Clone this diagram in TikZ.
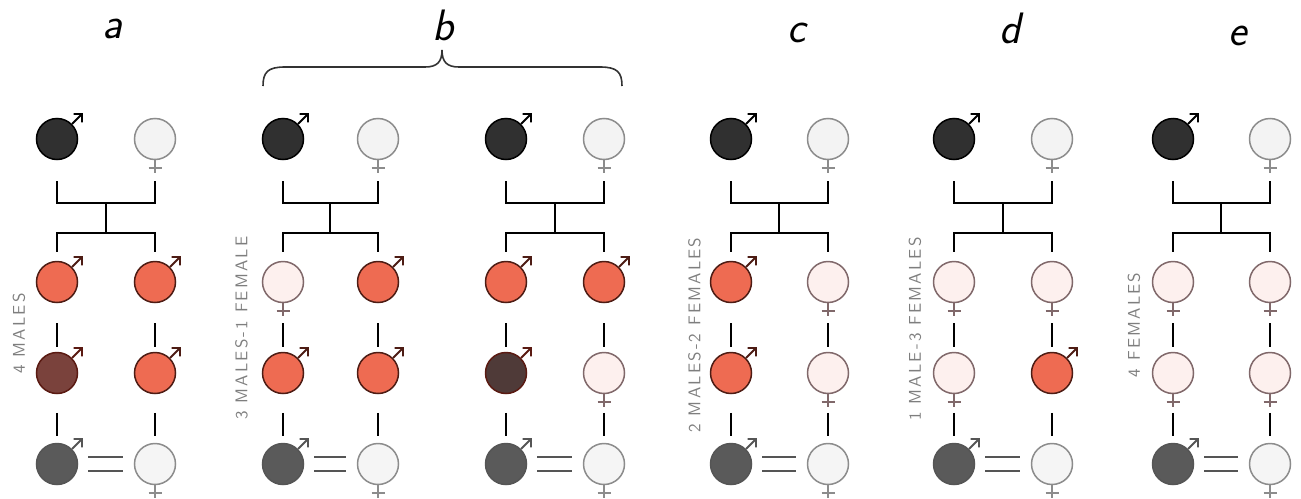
\documentclass[tikz,border=0pt]{standalone}
\usepackage{fontspec}
\setmainfont{Liberation Sans}
\newfontfamily\lblfont{lmsans10-regular}[Extension=.otf, LetterSpace=13]
\newfontfamily\letfont{lmsans17-oblique}[Extension=.otf]
\usetikzlibrary{calc}
\definecolor{topM}{HTML}{303030}
\definecolor{topF}{HTML}{F3F3F3}
\definecolor{lgray}{HTML}{8C8C8C}
\definecolor{redF}{HTML}{EE6B52}
\definecolor{redL}{HTML}{4D1C14}
\definecolor{dred}{HTML}{7A423C}
\definecolor{dredL}{HTML}{5A1A12}
\definecolor{dredB}{HTML}{4F3A38}
\definecolor{pinkF}{HTML}{FDF0EE}
\definecolor{pinkL}{HTML}{80686A}
\definecolor{botM}{HTML}{5A5A5A}
\definecolor{botML}{HTML}{555555}
\definecolor{botF}{HTML}{F5F5F5}
\definecolor{lbl}{HTML}{7E7E7E}
\tikzset{
  person/.style={circle, minimum size=41pt, inner sep=0pt, line width=1.5pt},
  sym/.style={line width=1.8pt, line join=miter},
  link/.style={line width=2pt, black},
  eqline/.style={line width=1.6pt, botML},
  letter/.style={font=\letfont\fontsize{44}{46}\selectfont, anchor=base, inner sep=0pt},
  vlabel/.style={font=\lblfont\fontsize{17}{19}\selectfont, text=lbl, rotate=90, inner sep=0pt},
  bracepath/.style={line width=1.6pt, draw=black!80}
}
\newcommand\pers[5]{%
  \node[person, fill=#3, draw=#4] (#1) at #2 {};
  \ifx M#5
    \draw[sym, draw=#4] (#1.45) -- ++(10,-10) ++(-8.5,0) -- ++(8.5,0) -- ++(0,8.5);
  \else
    \draw[sym, draw=#4] (#1.south) -- ++(0,13) ++(-6.5,-5) -- ++(13,0);
  \fi}
\newcommand\fambase[4]{%
  \pers{#1-11}{(#2,139)}{topM}{black}{M}
  \pers{#1-12}{(#3,139)}{topF}{lgray}{F}
  \pers{#1-41}{(#2,464)}{botM}{botML}{M}
  \pers{#1-42}{(#3,464)}{botF}{lgray}{F}
  \coordinate (#1-j1) at (#4,203);
  \coordinate (#1-j2) at (#4,233);
}
\newcommand\famlinks[1]{%
  \draw[link, shorten <=21pt, shorten >=21pt] (#1-11) |- (#1-j1) -| (#1-12);
  \draw[link] (#1-j1) -- (#1-j2);
  \draw[link, shorten <=9pt, shorten >=9pt] (#1-21) |- (#1-j2) -| (#1-22);
  \draw[link, shorten <=20pt, shorten >=4.5pt] (#1-21) -- (#1-31);
  \draw[link, shorten <=20pt, shorten >=4.5pt] (#1-22) -- (#1-32);
  \draw[link, shorten <=18.5pt, shorten >=6.5pt] (#1-31) -- (#1-41);
  \draw[link, shorten <=18.5pt, shorten >=6.5pt] (#1-32) -- (#1-42);
  \draw[eqline, shorten <=10pt, shorten >=11pt] ([yshift=7pt]#1-41.east) -- ([yshift=7pt]#1-42.west);
  \draw[eqline, shorten <=10pt, shorten >=11pt] ([yshift=-7pt]#1-41.east) -- ([yshift=-7pt]#1-42.west);
}
\begin{document}
\begin{tikzpicture}[x=1pt, y=-1pt]
\useasboundingbox (0,0) rectangle (1301,498);

% letters
\node[letter] (la) at (112,38) {a};
\node[letter] (lb) at (443,40) {b};
\node[letter] (lc) at (797,42) {c};
\node[letter] (ld) at (1010,43) {d};
\node[letter] (le) at (1238,45) {e};

% brace over b
\draw[bracepath] (263,86) .. controls (263,72) and (268,67) .. (285,67) -- (425,67)
  .. controls (437,67) and (442,62) .. (442,50)
  .. controls (442,62) and (447,67) .. (459,67) -- (600,67)
  .. controls (617,67) and (622,72) .. (622,86);

% group a
\fambase{a}{57}{155}{106}
\pers{a-21}{(57,282)}{redF}{redL}{M}
\pers{a-22}{(155,282)}{redF}{redL}{M}
\pers{a-31}{(57,373)}{dred}{dredL}{M}
\pers{a-32}{(155,373)}{redF}{redL}{M}
\famlinks{a}

% group b1
\fambase{b}{283}{378}{330}
\pers{b-21}{(283,282)}{pinkF}{pinkL}{F}
\pers{b-22}{(378,282)}{redF}{redL}{M}
\pers{b-31}{(283,373)}{redF}{redL}{M}
\pers{b-32}{(378,373)}{redF}{redL}{M}
\famlinks{b}

% group b2
\fambase{bb}{506}{604}{555}
\pers{bb-21}{(506,282)}{redF}{redL}{M}
\pers{bb-22}{(604,282)}{redF}{redL}{M}
\pers{bb-31}{(506,373)}{dredB}{dredL}{M}
\pers{bb-32}{(604,373)}{pinkF}{pinkL}{F}
\famlinks{bb}

% group c
\fambase{c}{731}{828}{779}
\pers{c-21}{(731,282)}{redF}{redL}{M}
\pers{c-22}{(828,282)}{pinkF}{pinkL}{F}
\pers{c-31}{(731,373)}{redF}{redL}{M}
\pers{c-32}{(828,373)}{pinkF}{pinkL}{F}
\famlinks{c}

% group d
\fambase{d}{954}{1052}{1003}
\pers{d-21}{(954,282)}{pinkF}{pinkL}{F}
\pers{d-22}{(1052,282)}{pinkF}{pinkL}{F}
\pers{d-31}{(954,373)}{pinkF}{pinkL}{F}
\pers{d-32}{(1052,373)}{redF}{redL}{M}
\famlinks{d}

% group e
\fambase{e}{1173}{1270}{1221}
\pers{e-21}{(1173,282)}{pinkF}{pinkL}{F}
\pers{e-22}{(1270,282)}{pinkF}{pinkL}{F}
\pers{e-31}{(1173,373)}{pinkF}{pinkL}{F}
\pers{e-32}{(1270,373)}{pinkF}{pinkL}{F}
\famlinks{e}

% vertical labels
\node[vlabel] (va) at (19,333.5) {4 MALES};
\node[vlabel] (vb) at (241.5,328) {3 MALES-1 FEMALE};
\node[vlabel] (vc) at (694.5,335) {2 MALES-2 FEMALES};
\node[vlabel] (vd) at (915,329) {1 MALE-3 FEMALES};
\node[vlabel] (ve) at (1134,325) {4 FEMALES};
\end{tikzpicture}
\end{document}
